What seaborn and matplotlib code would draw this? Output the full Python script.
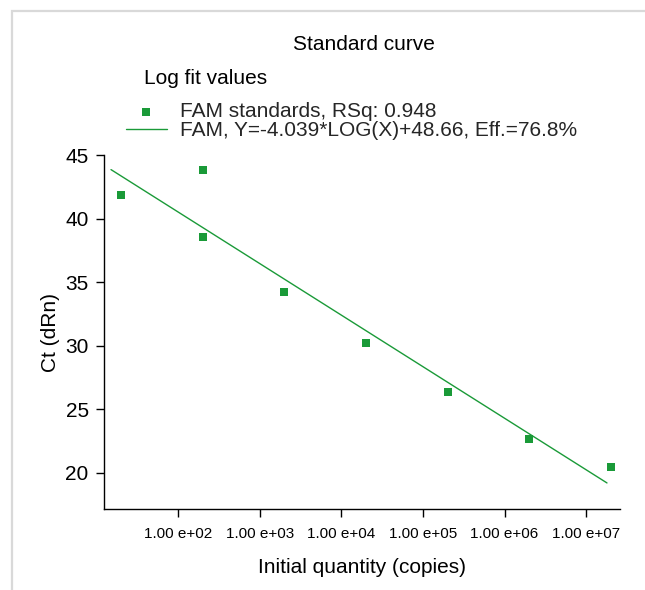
import matplotlib
matplotlib.use("Agg")
import matplotlib.pyplot as plt
import matplotlib.patches as mpatches
import seaborn as sns
import pandas as pd

# ---- data ----
quantity = [20, 200, 200, 2000, 20000, 200000, 2000000, 20000000]
ct_values = [41.85, 43.82, 38.57, 34.25, 30.19, 26.39, 22.69, 20.49]
fit_x = [15, 1.8e7]
fit_y = [43.85, 19.2]
x_ticks = [1e2, 1e3, 1e4, 1e5, 1e6, 1e7]
x_tick_labels = ["1.00 e+02", "1.00 e+03", "1.00 e+04", "1.00 e+05", "1.00 e+06", "1.00 e+07"]
y_ticks = [20, 25, 30, 35, 40, 45]
title = "Standard curve"
legend_title = "Log fit values"
label_points = "FAM standards, RSq: 0.948"
label_fit = "FAM, Y=-4.039*LOG(X)+48.66, Eff.=76.8%"
x_label = "Initial quantity (copies)"
y_label = "Ct (dRn)"

GREEN = "#1a9a38"

sns.set_theme(style="white")
plt.rcParams["font.family"] = ["Liberation Sans", "DejaVu Sans"]

W, H = 645, 590
fig = plt.figure(figsize=(W / 100, H / 100), dpi=100)
ax = fig.add_axes([104 / W, 1 - 509 / H, (619.6 - 104) / W, (509 - 155) / H])

pts = pd.DataFrame({"q": quantity, "ct": ct_values})
fit = pd.DataFrame({"q": fit_x, "ct": fit_y})

sns.lineplot(data=fit, x="q", y="ct", ax=ax, color=GREEN, linewidth=1.0,
             label=label_fit, legend=False)
sns.scatterplot(data=pts, x="q", y="ct", ax=ax, color=GREEN, marker="s", s=36,
                linewidth=0, label=label_points, legend=False, zorder=3)

ax.set_xscale("log")
ax.set_xlim(10 ** 1.09, 10 ** 7.41)
ax.set_ylim(17.15, 45)
ax.set_xticks(x_ticks)
ax.set_xticklabels(x_tick_labels, fontsize=11)
ax.minorticks_off()
ax.set_yticks(y_ticks)
ax.set_yticklabels([str(v) for v in y_ticks], fontsize=15)

for s in ["top", "right"]:
    ax.spines[s].set_visible(False)
for s in ["left", "bottom"]:
    ax.spines[s].set_color("black")
    ax.spines[s].set_linewidth(1.0)
ax.tick_params(axis="both", direction="out", length=6, width=1.0, color="black",
               colors="black", bottom=True, left=True)
ax.tick_params(axis="x", pad=7)
ax.tick_params(axis="y", pad=5)

ax.set_xlabel(x_label, fontsize=15, color="black", labelpad=12)
ax.set_ylabel(y_label, fontsize=15, color="black", labelpad=4)

fig.text(363.8 / W, 1 - 45 / H, title, fontsize=15, ha="center", va="center", color="black")
fig.text(144 / W, 1 - 79 / H, legend_title, fontsize=15, ha="left", va="center", color="black")

h, l = ax.get_legend_handles_labels()
order = [l.index(label_points), l.index(label_fit)]
fig.legend([h[i] for i in order], [l[i] for i in order], loc="upper left",
           bbox_to_anchor=(126 / W, 1 - 102 / H), bbox_transform=fig.transFigure,
           frameon=False, fontsize=15, borderpad=0, borderaxespad=0,
           handlelength=1.95, handletextpad=0.62, labelspacing=0.0,
           scatterpoints=1, markerscale=0.85)

# light gray frame (left & top edges visible)
frame = mpatches.Rectangle((12 / W, -0.2), 1.2, 1.2 - 11 / H, transform=fig.transFigure,
                           fill=False, edgecolor="#d9d9d9", linewidth=1.6)
fig.add_artist(frame)

fig.savefig("out.png", dpi=100, facecolor="white")
